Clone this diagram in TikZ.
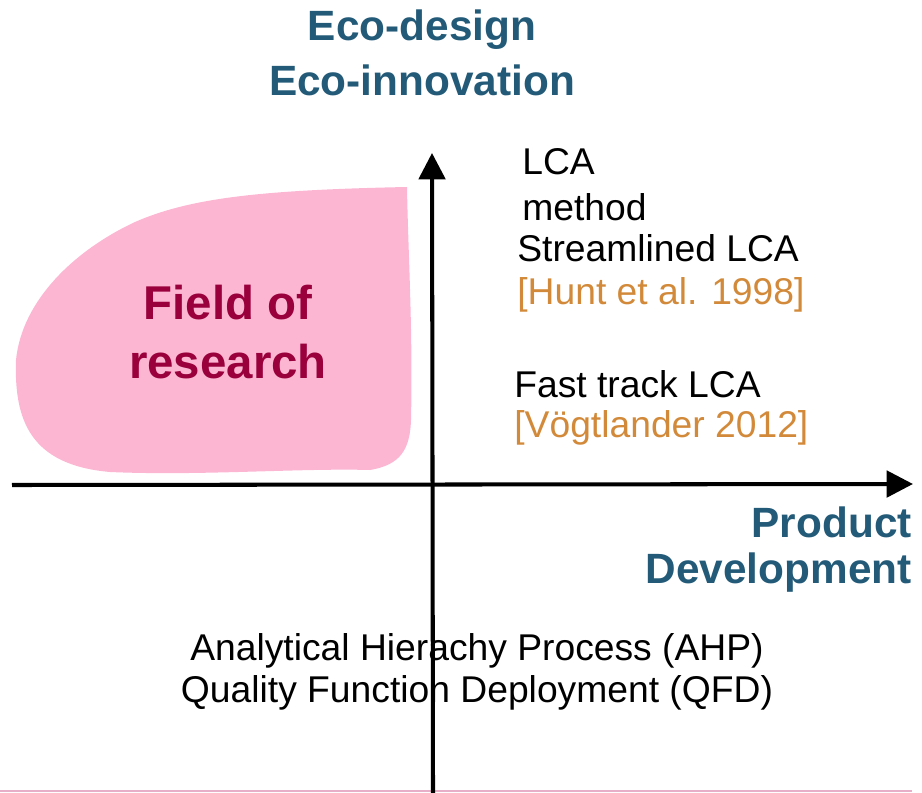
\documentclass[tikz,border=0pt]{standalone}
\usepackage{fontspec}
\setmainfont{Liberation Sans}
\usetikzlibrary{arrows.meta}
\definecolor{axisblue}{RGB}{34,90,120}
\definecolor{fieldpink}{RGB}{252,182,210}
\definecolor{fieldred}{RGB}{153,0,60}
\definecolor{refbrown}{RGB}{210,138,58}
\definecolor{linepink}{RGB}{232,176,200}
\tikzset{
  axis/.style={line width=2.3pt, -{Triangle[length=15pt,width=15pt]}},
  title/.style={text=axisblue, font=\fontsize{24.1}{28}\selectfont\bfseries, inner sep=0pt},
  field/.style={text=fieldred, font=\fontsize{27}{31}\selectfont\bfseries, inner sep=0pt},
  label/.style={font=\fontsize{21.2}{25}\selectfont, inner sep=0pt},
  ref/.style={label, text=refbrown},
}
\begin{document}
\begin{tikzpicture}[x=0.02cm, y=-0.02cm]
  \useasboundingbox (0,0) rectangle (922,793);
  \fill[fieldpink] (407,187) .. controls (260,190) and (190,198) .. (135,222)
    .. controls (75,250) and (22,300) .. (16,360)
    .. controls (14,420) and (30,465) .. (110,472)
    .. controls (200,476) and (300,468) .. (370,470)
    .. controls (400,465) and (410,450) .. (411,420)
    .. controls (413,330) and (408,250) .. (407,187) -- cycle;
  \draw[linepink, line width=0.6pt] (0,791) -- (912,791);

  \node[title] (ecodesign) at (422,30) {Eco-design};
  \node[title] (ecoinno) at (422,80) {Eco-innovation};
  \node[title, anchor=east] (product) at (912,522) {Product};
  \node[title, anchor=east] (devel) at (912,573) {Development};
  \node[field] (fieldof) at (228,303) {Field of};
  \node[field] (research) at (228,362) {research};

  \node[label, anchor=west] (lca) at (522,162) {LCA};
  \node[label, anchor=west] (method) at (522,207) {method};
  \node[label, anchor=west] (stream) at (517,248) {Streamlined LCA};
  \node[ref, anchor=west] (hunt) at (517,295) {[Hunt et al. 1998]};
  \node[label, anchor=west] (fast) at (514,384) {Fast track LCA};
  \node[ref, anchor=west] (vogt) at (514,428) {[Vögtlander 2012]};
  \node[label] (ahp) at (477,651) {Analytical Hierachy Process (AHP)};
  \node[label] (qfd) at (477,693) {Quality Function Deployment (QFD)};

  \coordinate (xs) at (12,485);
  \coordinate (xe) at (913,484);
  \coordinate (ys) at (433,793);
  \coordinate (ye) at (432,153);
  \draw[axis] (xs) -- (xe);
  \draw[axis] (ys) -- (ye);
\end{tikzpicture}
\end{document}
